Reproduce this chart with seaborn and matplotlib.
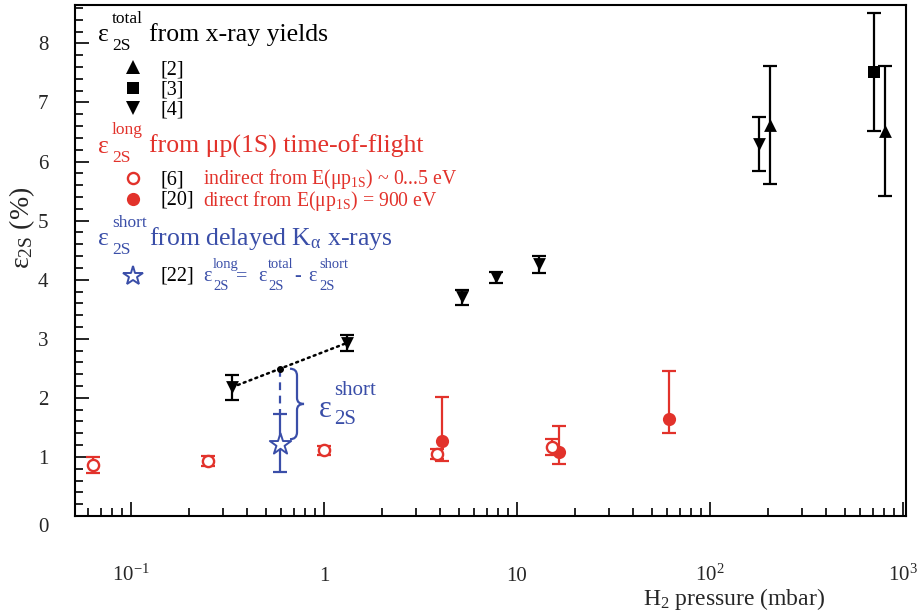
import numpy as np
import pandas as pd
import matplotlib
matplotlib.use("Agg")
import matplotlib.pyplot as plt
import seaborn as sns
from matplotlib.path import Path
from matplotlib.patches import PathPatch
from matplotlib.transforms import ScaledTranslation, IdentityTransform
import matplotlib.ticker as mticker

# ---------------- data ----------------
# eps_2S total from x-ray yields
ref2_p = [204, 809]
ref2_eps = [6.62, 6.51]
ref2_lo = [1.00, 1.10]
ref2_hi = [0.99, 1.10]

ref3_p = [705]
ref3_eps = [7.52]
ref3_err = [1.00]

ref4_p = [0.334, 1.316, 5.22, 7.83, 13.0, 179]
ref4_eps = [2.18, 2.93, 3.70, 4.04, 4.26, 6.30]
ref4_err = [0.21, 0.14, 0.13, 0.09, 0.14, 0.46]

# eps_2S long from mu p(1S) time-of-flight
ref6_p = [0.0638, 0.252, 1.0, 3.85, 15.2]
ref6_eps = [0.86, 0.93, 1.11, 1.05, 1.17]
ref6_err = [0.14, 0.08, 0.08, 0.09, 0.13]

ref20_p = [4.1, 16.5, 61.5]
ref20_eps = [1.27, 1.09, 1.64]
ref20_lo = [0.34, 0.21, 0.24]
ref20_hi = [0.75, 0.44, 0.82]

# eps_2S short from delayed K_alpha x-rays
ref22_p = [0.592]
ref22_eps = [1.22]
ref22_lo = [0.48]
ref22_hi = [0.51]

x_major = [0.1, 1, 10, 100, 1000]
x_labels = [r"$10^{-1}$", "1", "10", r"$10^{2}$", r"$10^{3}$"]
y_major = [0, 1, 2, 3, 4, 5, 6, 7, 8]

RED = "#e2322b"
BLUE = "#3a4ea8"
BLACK = "black"

# ---------------- style ----------------
sns.set_theme(style="white")
plt.rcParams["font.family"] = ["Liberation Serif", "DejaVu Serif"]
plt.rcParams["mathtext.fontset"] = "custom"
plt.rcParams["mathtext.rm"] = "Liberation Serif"
plt.rcParams["mathtext.it"] = "Liberation Serif:italic"
plt.rcParams["mathtext.bf"] = "Liberation Serif:bold"
plt.rcParams["axes.edgecolor"] = "black"
plt.rcParams["axes.linewidth"] = 1.5

fig = plt.figure(figsize=(9.21, 6.12), dpi=100)
W, H = 921, 612
L, R, T, B = 75, 906, 5, 516
ax = fig.add_axes([L / W, 1 - B / H, (R - L) / W, (B - T) / H])
ax.set_xscale("log")
ax.set_xlim(0.0513, 1037)
ax.set_ylim(0, 8.65)

EB = dict(fmt="none", elinewidth=1.6, capsize=4.8, capthick=1.6, zorder=2)

# error bars
ax.errorbar(ref4_p, ref4_eps, yerr=ref4_err, ecolor=BLACK, **EB)
ax.errorbar(ref2_p, ref2_eps, yerr=[ref2_lo, ref2_hi], ecolor=BLACK, **EB)
ax.errorbar(ref3_p, ref3_eps, yerr=ref3_err, ecolor=BLACK, **EB)
ax.errorbar(ref6_p, ref6_eps, yerr=ref6_err, ecolor=RED, **EB)
ax.errorbar(ref20_p, ref20_eps, yerr=[ref20_lo, ref20_hi], ecolor=RED, **EB)
ax.errorbar(ref22_p, ref22_eps, yerr=[ref22_lo, ref22_hi], ecolor=BLUE, **EB)

# markers via seaborn
sns.scatterplot(x=ref4_p, y=ref4_eps, marker="v", s=85, color=BLACK,
                edgecolor=BLACK, linewidth=0, ax=ax, zorder=4, legend=False)
sns.scatterplot(x=ref2_p, y=ref2_eps, marker="^", s=85, color=BLACK,
                edgecolor=BLACK, linewidth=0, ax=ax, zorder=4, legend=False)
sns.scatterplot(x=ref3_p, y=ref3_eps, marker="s", s=70, color=BLACK,
                edgecolor=BLACK, linewidth=0, ax=ax, zorder=4, legend=False)
sns.scatterplot(x=ref20_p, y=ref20_eps, marker="o", s=90, color=RED,
                edgecolor=RED, linewidth=0, ax=ax, zorder=4, legend=False)
sns.scatterplot(x=ref6_p, y=ref6_eps, marker="o", s=65, color="white",
                edgecolor=RED, linewidth=1.7, ax=ax, zorder=5, legend=False)
sns.scatterplot(x=ref22_p, y=ref22_eps, marker="*", s=260, color="white",
                edgecolor=BLUE, linewidth=1.4, ax=ax, zorder=5, legend=False)

# dotted line between first two [4] points and interpolated point at star pressure
lx = np.log10(ref4_p[:2])
t = (np.log10(ref22_p[0]) - lx[0]) / (lx[1] - lx[0])
y_int = ref4_eps[0] + t * (ref4_eps[1] - ref4_eps[0])
ax.plot(ref4_p[:2], ref4_eps[:2], color=BLACK, lw=1.8, ls=(0, (0.8, 1.7)),
        zorder=3, dash_capstyle="round")
ax.plot([ref22_p[0]], [y_int], "o", color=BLACK, ms=4, zorder=6)
ax.plot([ref22_p[0], ref22_p[0]], [y_int, ref22_eps[0] + ref22_hi[0]],
        color=BLUE, lw=1.6, ls=(0, (3.5, 2.5)), zorder=3)

# curly brace (annotation) in display pixels
def brace(x, y_bot, y_top):
    X, Yt = ax.transData.transform((x, y_top))
    _, Yb = ax.transData.transform((x, y_bot))
    x0 = X + 10
    xs = x0 + 7
    xt = x0 + 14
    mid = 0.5 * (Yt + Yb)
    verts = [(x0, Yt), (xs, Yt), (xs, Yt - 7),
             (xs, mid + 6),
             (xs, mid), (xt, mid),
             (xs, mid), (xs, mid - 6),
             (xs, Yb + 7),
             (xs, Yb), (x0, Yb)]
    codes = [Path.MOVETO, Path.CURVE3, Path.CURVE3,
             Path.LINETO,
             Path.CURVE3, Path.CURVE3,
             Path.CURVE3, Path.CURVE3,
             Path.LINETO,
             Path.CURVE3, Path.CURVE3]
    p = PathPatch(Path(verts, codes), fill=False, edgecolor=BLUE, lw=1.6,
                  transform=IdentityTransform(), zorder=3)
    fig.add_artist(p)

brace(ref22_p[0], ref22_eps[0] + 0.08, y_int)


def ax_xy(px, py):
    return (px - L) / (R - L), (B - py) / (B - T)


def put(px, py, s, size, color=BLACK, ha="left"):
    ax.text(*ax_xy(px, py), s, fontsize=size, color=color,
            transform=ax.transAxes, va="baseline", ha=ha)


def eps(px, py, size, small, color, sup, sub, dx, dsup, dsub):
    put(px, py, "ε", size, color)
    put(px + dx, py + dsup, sup, small, color)
    put(px + dx, py + dsub, sub, small, color)


# brace label
eps(319, 417, 22, 15, BLUE, "short", "2S", 15, -22, 7)

# ---------------- legend (drawn as text) ----------------
HF = 18.5
IF = 14.5
SF = 12.5
eps(98, 41, HF, SF, BLACK, "total", "2S", 14, -18, 9)
put(149, 41, "from x-ray yields", HF, BLACK)
eps(98, 153, HF, SF, RED, "long", "2S", 14, -19, 9)
put(149, 153, "from μp(1S) time-of-flight", HF, RED)
eps(98, 245, HF, SF, BLUE, "short", "2S", 14, -18, 9)
put(149, 245, r"from delayed K$_{\mathrm{α}}$ x-rays", HF, BLUE)


def glyph(py, marker, face, edge, ms, mew=0):
    ax.plot([ax_xy(133, py)[0]], [ax_xy(133, py)[1]], marker=marker, ms=ms,
            mfc=face, mec=edge, mew=mew, transform=ax.transAxes, clip_on=False, ls="none")


glyph(67, "^", BLACK, BLACK, 10)
glyph(88, "s", BLACK, BLACK, 8.5)
glyph(108, "v", BLACK, BLACK, 10)
glyph(178, "o", "white", RED, 8, 1.7)
glyph(199, "o", RED, RED, 9.5)
glyph(276, "*", "white", BLUE, 15, 1.4)

for py, s in [(74, "[2]"), (94, "[3]"), (114, "[4]"), (184, "[6]"), (205, "[20]"), (281, "[22]")]:
    put(160, py, s, IF, BLACK)

put(203, 184, r"indirect from E(μp$_{\mathrm{1S}}$) ~ 0...5 eV", 14.2, RED)
put(203, 206, r"direct from E(μp$_{\mathrm{1S}}$) = 900 eV", 14.2, RED)

# formula eps_long = eps_total - eps_short
FS = 10.5
eps(203, 281, IF, FS, BLUE, "long", "2S", 10, -13, 9)
put(236, 281, "=", IF, BLUE)
eps(258, 281, IF, FS, BLUE, "total", "2S", 10, -13, 9)
put(294, 281, "-", IF, BLUE)
eps(308, 281, IF, FS, BLUE, "short", "2S", 11, -13, 9)

# ---------------- axes ----------------
ax.xaxis.set_major_locator(mticker.FixedLocator(x_major))
ax.xaxis.set_minor_locator(mticker.LogLocator(base=10, subs=np.arange(2, 10), numticks=20))
ax.xaxis.set_minor_formatter(mticker.NullFormatter())
ax.set_xticklabels(x_labels)
ax.yaxis.set_major_locator(mticker.FixedLocator(y_major))
ax.yaxis.set_minor_locator(mticker.MultipleLocator(0.2))
ax.set_yticklabels([str(v) for v in y_major])

ax.tick_params(which="both", direction="in", top=False, right=False,
               left=True, bottom=True, color="black", width=1.2)
ax.tick_params(which="major", length=10)
ax.tick_params(which="minor", length=5.5)
ax.tick_params(axis="x", which="major", labelsize=15, pad=47)
ax.tick_params(axis="y", which="major", labelsize=15, pad=19)
for lab in ax.get_xticklabels():
    lab.set_va("baseline")
for lab in ax.get_yticklabels():
    if lab.get_text() == "0":
        lab.set_transform(lab.get_transform() + ScaledTranslation(0, -0.09, fig.dpi_scale_trans))

ax.set_xlabel(r"H$_{2}$ pressure (mbar)", fontsize=17)
ax.xaxis.set_label_coords(*ax_xy(734, 605))
ax.xaxis.label.set_va("baseline")
ax.set_ylabel(r"$\mathrm{ε}_{\mathrm{2S}}$ (%)", fontsize=20)
ax.yaxis.set_label_coords(*ax_xy(37, 228))

for sp in ax.spines.values():
    sp.set_linewidth(1.5)
    sp.set_color("black")

fig.savefig("out.png", dpi=100)
